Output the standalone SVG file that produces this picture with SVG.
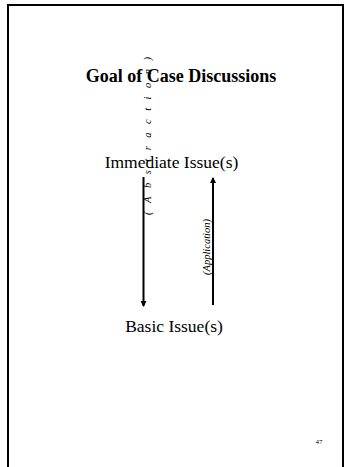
<svg xmlns="http://www.w3.org/2000/svg" width="349" height="467" viewBox="0 0 349 467">
<style>
.t{font-family:"Liberation Serif","Times New Roman",serif;fill:#000}
.lbl{font-family:"Liberation Serif","Times New Roman",serif;font-style:italic;font-size:10.5px;fill:#000}
.c{stroke:#000;stroke-width:2;fill:none}
</style>
<defs>
<marker id="ah" markerWidth="6" markerHeight="6" refX="5" refY="3" orient="auto" markerUnits="userSpaceOnUse">
<path d="M0,0 L6,3 L0,6 Z" fill="#000"/>
</marker>
</defs>
<rect width="349" height="467" fill="#fff"/>
<path d="M8,467 V5 H343 V467" stroke="#000" stroke-width="2" fill="none"/>
<g id="title"><text class="t" x="181" y="82" font-size="18" font-weight="bold" text-anchor="middle">Goal of Case Discussions</text></g>
<g id="immediate"><text class="t" x="171.5" y="168" font-size="17.5" text-anchor="middle">Immediate Issue(s)</text></g>
<g id="basic"><text class="t" x="174" y="332" font-size="17.5" text-anchor="middle">Basic Issue(s)</text></g>
<g id="connectors">
<line class="c" x1="143.5" y1="177" x2="143.5" y2="306" marker-end="url(#ah)"/>
<line class="c" x1="213" y1="305" x2="213" y2="178" marker-end="url(#ah)"/>
<text class="lbl" transform="translate(151,136) rotate(-90)" text-anchor="middle" textLength="158" lengthAdjust="spacing">(Abstraction)</text>
<text class="lbl" transform="translate(210,247) rotate(-90)" text-anchor="middle">(Application)</text>
</g>
<g id="page"><text class="t" x="319" y="444" font-size="7" text-anchor="middle">47</text></g>
</svg>
